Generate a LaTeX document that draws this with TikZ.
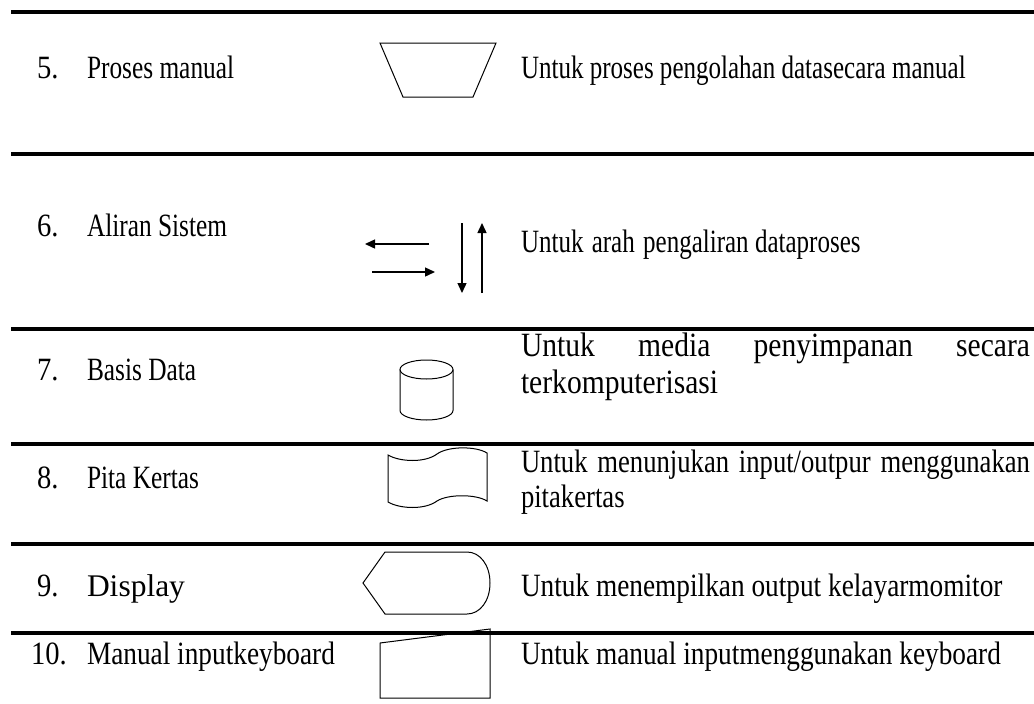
\documentclass[tikz,border=0pt]{standalone}
\usepackage{fontspec}
\setmainfont{Liberation Serif}
\newfontfamily\fnum{Liberation Serif}[FakeStretch=0.88]
\newfontfamily\fcond{Liberation Serif}[FakeStretch=0.78]
\newfontfamily\fright{Liberation Serif}[FakeStretch=0.77]
\newfontfamily\fwide{Liberation Serif}[FakeStretch=0.84]
\newfontfamily\fseven{Liberation Serif}[FakeStretch=0.87]
\newfontfamily\feight{Liberation Serif}[FakeStretch=0.82]
\newcommand\fsz[1]{\fontsize{#1pt}{#1pt}\selectfont}
\usetikzlibrary{arrows.meta}
\tikzset{
  rule/.style={line width=3.8pt},
  shp/.style={line width=1pt, line join=miter},
  arr/.style={line width=1.4pt, -{Triangle[length=10pt,width=9pt]}},
  lbl/.style={anchor=base west, inner sep=0pt, outer sep=0pt},
  num/.style={lbl, font=\fnum\fsz{32.5}},
  left/.style={lbl, font=\fcond\fsz{32.5}},
  desc/.style={lbl, font=\fright\fsz{32.5}},
}
\begin{document}
\begin{tikzpicture}[x=1pt, y=-1pt]
\useasboundingbox (0,0) rectangle (1034,704);
% horizontal rules
\foreach \yy/\nm in {12/r1,154/r2,329/r3,444/r4,544/r5,633/r6}{
  \coordinate (\nm a) at (11,\yy);
  \coordinate (\nm b) at (1034,\yy);
  \draw[rule] (\nm a) -- (\nm b);
}
% row 5
\node[num] (n5) at (37,78) {5.};
\node[left] (t5) at (87,78) {Proses manual};
\node[desc] (d5) at (521,78) {Untuk proses pengolahan datasecara manual};
\draw[shp] (380,43) -- (496,43) -- (473,97) -- (403,97) -- cycle;
% row 6
\node[num] (n6) at (37,236) {6.};
\node[left] (t6) at (87,236) {Aliran Sistem};
\node[desc] (d6) at (521,252) {Untuk\hspace{2pt} arah\hspace{2pt} pengaliran dataproses};
\coordinate (a1s) at (429,244); \coordinate (a1e) at (365,244);
\coordinate (a2s) at (372,272); \coordinate (a2e) at (435,272);
\coordinate (a3s) at (462,223); \coordinate (a3e) at (462,293);
\coordinate (a4s) at (482,293); \coordinate (a4e) at (482,223);
\draw[arr] (a1s) -- (a1e);
\draw[arr] (a2s) -- (a2e);
\draw[arr] (a3s) -- (a3e);
\draw[arr] (a4s) -- (a4e);
% row 7
\node[num] (n7) at (37,380) {7.};
\node[left] (t7) at (87,380) {Basis Data};
\node[lbl, font=\fseven\fsz{34}] (d7a) at (521,356) {\hbox to 509pt{Untuk\hfill media\hfill penyimpanan\hfill secara}};
\node[lbl, font=\fseven\fsz{34}] (d7b) at (521,393) {terkomputerisasi};
\draw[shp] (426.5,369.5) ellipse[x radius=26.5, y radius=9.5];
\draw[shp] (400,369.5) -- (400,410.5)
  arc[start angle=180, end angle=0, x radius=26.5, y radius=9.5] -- (453,369.5);
% row 8
\node[num] (n8) at (37,488) {8.};
\node[left] (t8) at (87,488) {Pita Kertas};
\node[lbl, font=\feight\fsz{32.5}] (d8a) at (521,472) {\hbox to 509pt{Untuk\hfill menunjukan\hfill input/outpur\hfill menggunakan}};
\node[lbl, font=\feight\fsz{32.5}] (d8b) at (521,507) {pitakertas};
\draw[shp] (388,455) .. controls (400,462) and (425,463) .. (437,454)
  .. controls (448,446) and (476,446) .. (487,453) -- (487,501)
  .. controls (476,494) and (448,494) .. (437,501)
  .. controls (425,510) and (400,509) .. (388,502) -- cycle;
% row 9
\node[num] (n9) at (37,596) {9.};
\node[lbl, font=\fsz{31.5}] (t9) at (87,596) {Display};
\node[lbl, font=\fwide\fsz{32.5}] (d9) at (521,596) {Untuk menempilkan output kelayarmomitor};
\draw[shp] (363,583) -- (385,552) -- (467,552)
  .. controls (480,552) and (490,565) .. (490,583)
  .. controls (490,601) and (480,614) .. (467,614) -- (385,614) -- cycle;
% row 10
\node[num] (n10) at (31,664) {10.};
\node[lbl, font=\fwide\fsz{32.5}] (t10) at (87,664) {Manual inputkeyboard};
\node[lbl, font=\fwide\fsz{32.5}] (d10) at (521,664) {Untuk manual inputmenggunakan keyboard};
\draw[shp] (380,643) -- (490,629) -- (490,698) -- (380,698) -- cycle;
\end{tikzpicture}
\end{document}
